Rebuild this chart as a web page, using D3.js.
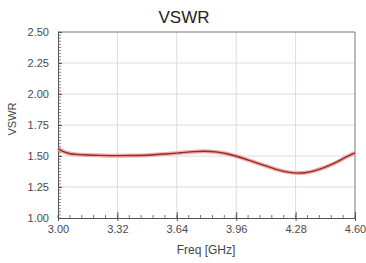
<!DOCTYPE html>
<html>
<head>
<meta charset="utf-8">
<script src="https://cdn.jsdelivr.net/npm/d3@7"></script>
<style>
  body { margin: 0; background: #fff; }
  text { font-family: "Liberation Sans", Arial, sans-serif; }
</style>
</head>
<body>
<script>
// data
var freq = [3.00, 3.03, 3.06, 3.10, 3.16, 3.23, 3.32, 3.40, 3.50, 3.58, 3.66, 3.73, 3.79, 3.85, 3.91, 3.98, 4.05, 4.12, 4.18, 4.24, 4.29, 4.33, 4.38, 4.44, 4.50, 4.55, 4.60];
var vswr = [1.56, 1.535, 1.52, 1.513, 1.508, 1.505, 1.503, 1.504, 1.508, 1.516, 1.526, 1.535, 1.538, 1.533, 1.518, 1.49, 1.455, 1.42, 1.39, 1.37, 1.362, 1.365, 1.38, 1.41, 1.45, 1.49, 1.525];
var xTicks = [3.00, 3.32, 3.64, 3.96, 4.28, 4.60];
var yTicks = [1.00, 1.25, 1.50, 1.75, 2.00, 2.25, 2.50];

var W = 366, H = 263;
var margin = {top: 32, right: 11, bottom: 45, left: 58},
    width = W - margin.left - margin.right,
    height = H - margin.top - margin.bottom;

var svg = d3.select("body").append("svg")
    .attr("width", W)
    .attr("height", H);

var x = d3.scaleLinear().domain([3.0, 4.6]).range([0, width]);
var y = d3.scaleLinear().domain([1.0, 2.5]).range([height, 0]);

var g = svg.append("g")
    .attr("transform", "translate(" + margin.left + "," + margin.top + ")");

// grid
g.append("g").selectAll("line")
    .data(xTicks.slice(1, -1))
  .enter().append("line")
    .attr("x1", function(d) { return x(d); })
    .attr("x2", function(d) { return x(d); })
    .attr("y1", 0).attr("y2", height)
    .attr("stroke", "#dcdcdc");

g.append("g").selectAll("line")
    .data(yTicks.slice(1, -1))
  .enter().append("line")
    .attr("y1", function(d) { return y(d); })
    .attr("y2", function(d) { return y(d); })
    .attr("x1", 0).attr("x2", width)
    .attr("stroke", "#dcdcdc");

// frame top/right
g.append("path")
    .attr("d", "M0,0H" + width + "V" + height)
    .attr("fill", "none")
    .attr("stroke", "#777");

// minor ticks
var xMinor = d3.range(0, 26).map(function(i) { return 3.0 + i * 0.064; });
g.append("g").selectAll("line")
    .data(xMinor)
  .enter().append("line")
    .attr("x1", function(d) { return x(d); })
    .attr("x2", function(d) { return x(d); })
    .attr("y1", height).attr("y2", height - 3)
    .attr("stroke", "#777");

var yMinor = d3.range(0, 61).map(function(i) { return 1.0 + i * 0.025; });
g.append("g").selectAll("line")
    .data(yMinor)
  .enter().append("line")
    .attr("y1", function(d) { return y(d); })
    .attr("y2", function(d) { return y(d); })
    .attr("x1", 0).attr("x2", 3)
    .attr("stroke", "#888");

// axes
var xAxis = g.append("g")
    .attr("transform", "translate(0," + height + ")")
    .call(d3.axisBottom(x).tickValues(xTicks).tickFormat(d3.format(".2f")).tickSizeInner(-6).tickSizeOuter(0).tickPadding(7));

var yAxis = g.append("g")
    .call(d3.axisLeft(y).tickValues(yTicks).tickFormat(d3.format(".2f")).tickSizeInner(3).tickSizeOuter(0).tickPadding(6));

[xAxis, yAxis].forEach(function(a) {
  a.select(".domain").attr("stroke", "#555");
  a.selectAll(".tick line").attr("stroke", "#555");
  a.selectAll(".tick text")
    .attr("fill", "#4a4a4a")
    .style("font-size", "11px")
    .style("font-family", "Liberation Sans, Arial, sans-serif");
});
yAxis.selectAll(".tick line").attr("x2", 4);
xAxis.selectAll(".tick line").attr("y2", 3).attr("y1", -6);

// curve
var line = d3.line()
    .x(function(d, i) { return x(freq[i]); })
    .y(function(d) { return y(d); })
    .curve(d3.curveMonotoneX);

g.append("path")
    .datum(vswr)
    .attr("d", line)
    .attr("fill", "none")
    .attr("stroke", "#f0aaaa")
    .attr("stroke-width", 4);

g.append("path")
    .datum(vswr)
    .attr("d", line)
    .attr("fill", "none")
    .attr("stroke", "#962a2a")
    .attr("stroke-width", 1.4);

// titles
svg.append("text")
    .attr("x", 184).attr("y", 23)
    .attr("text-anchor", "middle")
    .style("font-size", "17px")
    .attr("fill", "#222")
    .text("VSWR");

svg.append("text")
    .attr("x", 206).attr("y", 254)
    .attr("text-anchor", "middle")
    .style("font-size", "12px")
    .attr("fill", "#444")
    .text("Freq [GHz]");

svg.append("text")
    .attr("transform", "translate(16,119) rotate(-90)")
    .attr("text-anchor", "middle")
    .style("font-size", "11px")
    .attr("fill", "#444")
    .text("VSWR");
</script>
</body>
</html>
